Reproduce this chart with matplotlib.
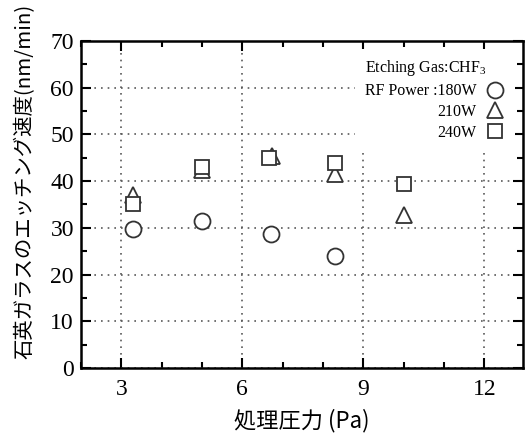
import matplotlib
matplotlib.use('Agg')
import matplotlib.pyplot as plt
from matplotlib.ticker import MultipleLocator

# etching rate of quartz glass vs. process pressure, CHF3 gas
pressure_180 = [3.3, 5.0, 6.7, 8.3]
rate_180 = [29.8, 31.4, 28.6, 24.0]
pressure_210 = [3.3, 5.0, 6.73, 8.3, 10.0]
rate_210 = [37.0, 42.4, 45.3, 41.4, 32.8]
pressure_240 = [3.3, 5.0, 6.65, 8.3, 10.0]
rate_240 = [35.1, 43.0, 45.0, 43.9, 39.4]
series_labels = ['RF Power :180W', '210W', '240W']
legend_title = 'Etching Gas:CHF$_3$'
x_ticks = [3, 6, 9, 12]
y_ticks = [0, 10, 20, 30, 40, 50, 60, 70]

plt.rcParams['font.family'] = ['Liberation Serif', 'DejaVu Serif']
plt.rcParams['mathtext.fontset'] = 'custom'
plt.rcParams['mathtext.rm'] = 'Liberation Serif'
cjk = ['Noto Sans CJK JP', 'DejaVu Sans']

fig = plt.figure(figsize=(5.29, 4.34), dpi=100)
ax = fig.add_axes([0.153, 0.152, 0.835, 0.754])

kw = dict(linestyle='none', markerfacecolor='white', markeredgecolor='#333333', markeredgewidth=1.3)
ax.plot(pressure_180, rate_180, marker='o', markersize=11.5, label=series_labels[0], zorder=3, **kw)
ax.plot(pressure_210, rate_210, marker='^', markersize=12, label=series_labels[1], zorder=4, **kw)
ax.plot(pressure_240, rate_240, marker='s', markersize=10.5, label=series_labels[2], zorder=5, **kw)

ax.set_xlim(2, 12.95)
ax.set_ylim(0, 70)
ax.set_xticks(x_ticks)
ax.set_yticks(y_ticks)
ax.xaxis.set_minor_locator(MultipleLocator(1))
ax.yaxis.set_minor_locator(MultipleLocator(5))
ax.tick_params(which='both', direction='in', top=True, right=True, width=1.5, labelsize=17)
ax.tick_params(which='major', length=7)
ax.tick_params(which='minor', length=4)
ax.tick_params(axis='x', pad=8)
ax.tick_params(axis='y', pad=5)
for s in ax.spines.values():
    s.set_linewidth(1.8)
ax.grid(True, which='major', linestyle=(0, (1, 3)), color='0.35', linewidth=1.2)
ax.set_axisbelow(True)

ax.set_xlabel('処理圧力 (Pa)', family=cjk, fontsize=16)
ax.xaxis.set_label_coords(0.5, -0.125)
ax.set_ylabel('石英ガラスのエッチング速度(nm/min)', family=cjk, fontsize=14.7)
ax.yaxis.set_label_coords(-0.103, 0.57)

leg = ax.legend(title=legend_title, loc='upper right', bbox_to_anchor=(1.0, 1.0),
                markerfirst=False, fontsize=11.5, title_fontsize=11.5, alignment='left',
                frameon=True, facecolor='white', edgecolor='none', framealpha=1,
                fancybox=False, borderpad=0.6, labelspacing=0.3, handletextpad=0.6,
                handlelength=1.2, numpoints=1)
leg.set_zorder(6)

fig.savefig('out.png', dpi=100)
